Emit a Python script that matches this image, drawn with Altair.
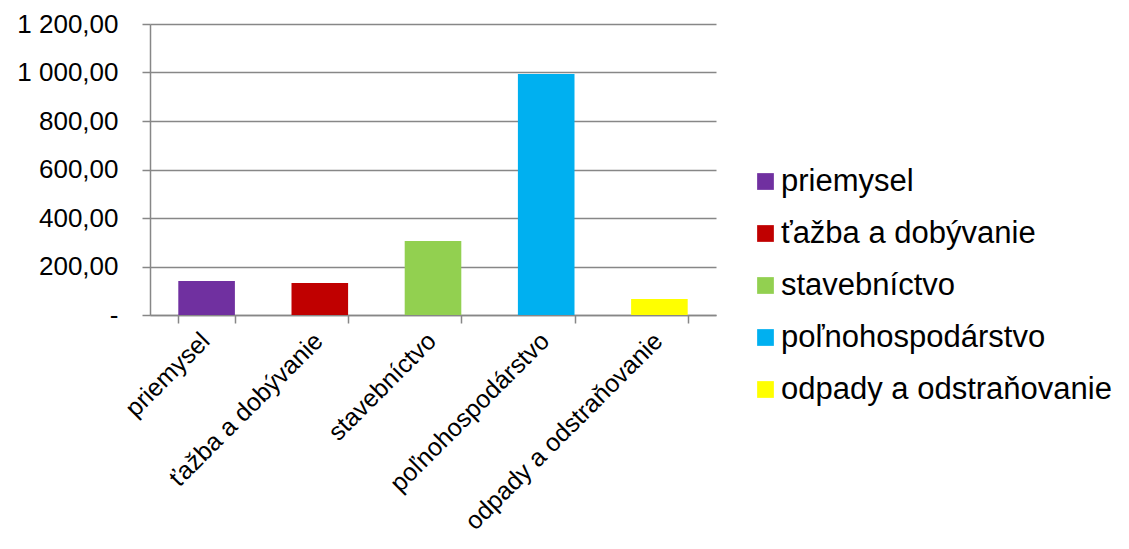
import altair as alt
import pandas as pd

categories = ["priemysel", "ťažba a dobývanie", "stavebníctvo", "poľnohospodárstvo", "odpady a odstraňovanie"]
values = [140, 132, 305, 994, 66]
colors = ["#7030A0", "#C00000", "#92D050", "#00B0F0", "#FFFF00"]
y_ticks = [0, 200, 400, 600, 800, 1000, 1200]

df = pd.DataFrame({"kategoria": categories, "hodnota": values})

label_expr = ("datum.value == 0 ? '-\u00a0\u00a0' : "
              "replace(replace(format(datum.value, ',.2f'), ',', ' '), '.', ',')")

grid_gray = "#878787"

chart = alt.Chart(df).mark_bar().encode(
    x=alt.X(
        "kategoria:N",
        sort=categories,
        scale=alt.Scale(paddingInner=0.5, paddingOuter=0.25),
        axis=alt.Axis(
            title=None, labelAngle=-45, labelFontSize=25, labelColor="black",
            labelLimit=500, labelOffset=-10,
            tickBand="extent", tickSize=8, tickColor=grid_gray, tickWidth=1.5,
            domainColor=grid_gray, domainWidth=1.5, grid=False, labelPadding=5,
        ),
    ),
    y=alt.Y(
        "hodnota:Q",
        scale=alt.Scale(domain=[0, 1200], nice=False),
        axis=alt.Axis(
            values=y_ticks, title=None, labelExpr=label_expr, labelFontSize=26,
            labelColor="black", tickSize=8, tickColor=grid_gray, tickWidth=1.5,
            domainColor=grid_gray, domainWidth=1.5, gridColor=grid_gray,
            gridWidth=1.3, labelPadding=24,
        ),
    ),
    color=alt.Color(
        "kategoria:N",
        sort=categories,
        scale=alt.Scale(domain=categories, range=colors),
        legend=alt.Legend(
            title=None, orient="none", legendX=600, legendY=142,
            symbolType="square", symbolSize=280, symbolStrokeWidth=0,
            labelFontSize=31, labelColor="black", rowPadding=20, labelOffset=0,
            labelLimit=500,
        ),
    ),
).properties(
    width=566,
    height=291,
    autosize=alt.AutoSizeParams(type="none"),
    padding={"left": 142, "top": 16, "right": 405, "bottom": 224},
).configure(
    font="Liberation Sans",
).configure_view(stroke=None)

chart.save("out.html", embed_options={"renderer": "svg", "actions": False})
